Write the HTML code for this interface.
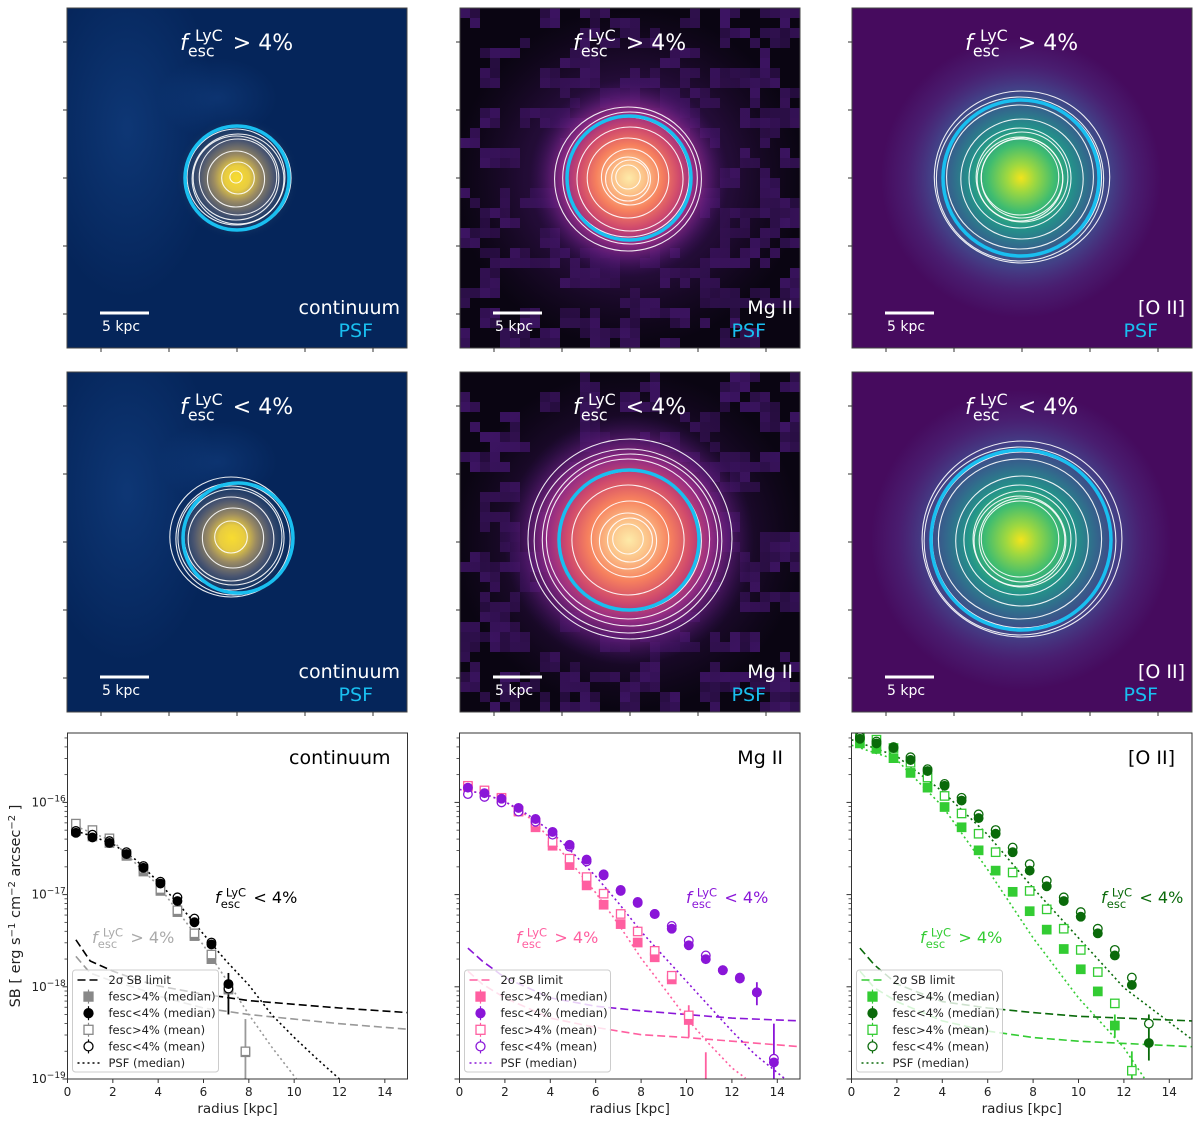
<!DOCTYPE html>
<html><head><meta charset="utf-8"><style>
html,body{margin:0;padding:0;background:#fff;}
svg{display:block;font-family:"DejaVu Sans","Liberation Sans",sans-serif;}
</style></head><body>
<svg id="fig" width="1200" height="1124" viewBox="0 0 1200 1124" xmlns="http://www.w3.org/2000/svg">
<defs>
<radialGradient id="gCont"><stop offset="0" stop-color="#f8dc30"/><stop offset="0.2" stop-color="#e8cc40"/><stop offset="0.38" stop-color="#9a8a62"/><stop offset="0.6" stop-color="#4a5570"/><stop offset="0.8" stop-color="#1d3d68" stop-opacity="0.7"/><stop offset="1" stop-color="#06265a" stop-opacity="0"/></radialGradient>
<radialGradient id="gMg"><stop offset="0" stop-color="#fdeaa8"/><stop offset="0.15" stop-color="#fcc48a"/><stop offset="0.33" stop-color="#f6805e"/><stop offset="0.5" stop-color="#d04a6c"/><stop offset="0.65" stop-color="#9a2e86" stop-opacity="0.95"/><stop offset="0.8" stop-color="#6a1f80" stop-opacity="0.6"/><stop offset="1" stop-color="#3a1060" stop-opacity="0"/></radialGradient>
<radialGradient id="gO"><stop offset="0" stop-color="#f2e41c"/><stop offset="0.1" stop-color="#9ed840"/><stop offset="0.24" stop-color="#3fbc70"/><stop offset="0.36" stop-color="#23938a"/><stop offset="0.5" stop-color="#33678c"/><stop offset="0.65" stop-color="#43448a" stop-opacity="0.9"/><stop offset="0.82" stop-color="#4c2e80" stop-opacity="0.5"/><stop offset="1" stop-color="#4c2e80" stop-opacity="0"/></radialGradient>
<radialGradient id="gHaze"><stop offset="0" stop-color="#1a4f9a" stop-opacity="0.7"/><stop offset="1" stop-color="#1a4f9a" stop-opacity="0"/></radialGradient>
<radialGradient id="gMgHalo"><stop offset="0" stop-color="#4a1870" stop-opacity="0.8"/><stop offset="0.6" stop-color="#3a1258" stop-opacity="0.5"/><stop offset="1" stop-color="#2a0c40" stop-opacity="0"/></radialGradient>
</defs>
<g id="images"></g>
<g id="plots"></g>
</svg>
<script>
// ---------- chart data (log10 SB) ----------
const radii = [0.37,1.1,1.85,2.6,3.35,4.1,4.85,5.6,6.35,7.1,7.85,8.6,9.35,10.1,10.85,11.6,12.35,13.1,13.85];
const xTicks = [0,2,4,6,8,10,12,14];
const yDecades = [-19,-18,-17,-16];
const yTickExps = ["\u221219","\u221218","\u221217","\u221216"];

const contHiMed  = [-16.31,-16.37,-16.44,-16.58,-16.75,-16.96,-17.19,-17.45,-17.70,-18.03,-18.71];
const contLoMed  = [-16.33,-16.38,-16.44,-16.56,-16.71,-16.88,-17.07,-17.30,-17.54,-17.97];
const contHiMean = [-16.23,-16.30,-16.39,-16.56,-16.72,-16.94,-17.17,-17.42,-17.65,-18.02,-18.70];
const contLoMean = [-16.31,-16.35,-16.42,-16.54,-16.69,-16.86,-17.03,-17.26,-17.52,-18.02];
const contPsfLoR = [0.37,1,2,3,4,5,6,7,8,9,10,11,12];
const contPsfLo  = [-16.31,-16.36,-16.45,-16.62,-16.86,-17.13,-17.43,-17.72,-17.98,-18.3,-18.55,-18.78,-19.0];
const contPsfHiR = [0.37,2,4,6,7,8,9,10.1];
const contPsfHi  = [-16.26,-16.42,-16.9,-17.55,-17.92,-18.3,-18.65,-19.0];
const limR       = [0.37,1,2,3,4,6,8,10,12,15];
const contLimLo  = [-17.49,-17.72,-17.83,-17.92,-17.99,-18.08,-18.15,-18.19,-18.23,-18.28];
const contLimHi  = [-17.67,-17.85,-17.94,-18.01,-18.10,-18.23,-18.30,-18.35,-18.40,-18.46];

const mgHiMed  = [-15.83,-15.88,-15.96,-16.10,-16.27,-16.47,-16.68,-16.90,-17.11,-17.32,-17.52,-17.68,-17.92,-18.36];
const mgHiMean = [-15.82,-15.87,-15.95,-16.09,-16.22,-16.43,-16.61,-16.81,-16.99,-17.21,-17.40,-17.61,-17.88,-18.31];
const mgLoMed  = [-15.84,-15.90,-15.96,-16.06,-16.18,-16.32,-16.46,-16.62,-16.78,-16.95,-17.08,-17.21,-17.37,-17.55,-17.70,-17.82,-17.91,-18.06,-18.82];
const mgLoMean = [-15.91,-15.94,-16.00,-16.10,-16.21,-16.35,-16.48,-16.64,-16.79,-16.96,-17.09,-17.21,-17.34,-17.50,-17.66,-17.82,-17.90,-18.06,-18.78];
const mgPsfHiR = [0,1,2,3,4,5,6,7,8,9,10,11,12,12.6];
const mgPsfHi  = [-15.86,-15.90,-15.99,-16.15,-16.39,-16.68,-16.98,-17.32,-17.69,-18.01,-18.34,-18.62,-18.88,-18.99];
const mgPsfLoR = [0,1,2,3,4,5,6,7,8,9,10,11,12,13,14.3];
const mgPsfLo  = [-15.86,-15.90,-15.99,-16.13,-16.31,-16.55,-16.80,-17.09,-17.40,-17.67,-17.94,-18.21,-18.48,-18.73,-18.99];
const mgLimLo  = [-17.58,-17.72,-17.90,-18.01,-18.12,-18.21,-18.26,-18.30,-18.34,-18.37];
const mgLimHi  = [-17.83,-17.97,-18.12,-18.23,-18.34,-18.44,-18.52,-18.55,-18.59,-18.65];

const oHiMed  = [-15.36,-15.42,-15.52,-15.68,-15.84,-16.05,-16.27,-16.52,-16.74,-16.97,-17.18,-17.38,-17.59,-17.81,-18.05,-18.42];
const oHiMean = [-15.27,-15.32,-15.41,-15.57,-15.73,-15.93,-16.12,-16.34,-16.54,-16.76,-16.96,-17.16,-17.37,-17.60,-17.84,-18.18,-18.91];
const oLoMed  = [-15.31,-15.36,-15.41,-15.54,-15.66,-15.82,-15.98,-16.17,-16.34,-16.54,-16.74,-16.91,-17.07,-17.24,-17.42,-17.66,-17.98,-18.61];
const oLoMean = [-15.29,-15.34,-15.40,-15.51,-15.64,-15.80,-15.95,-16.13,-16.30,-16.49,-16.67,-16.85,-17.03,-17.19,-17.37,-17.60,-17.90,-18.40];
const oPsfHiR = [0,2,4,6,8,10,12,12.9];
const oPsfHi  = [-15.38,-15.54,-16.04,-16.73,-17.47,-18.12,-18.66,-18.99];
const oPsfLoR = [0,2,4,6,8,10,12,15];
const oPsfLo  = [-15.32,-15.50,-15.88,-16.35,-16.93,-17.47,-18.01,-18.57];
const oLimR   = [0.37,1,2,4,6,8,10,15];
const oLimLo  = [-17.58,-17.76,-17.97,-18.16,-18.23,-18.28,-18.32,-18.37];
const oLimHi  = [-17.83,-18.01,-18.16,-18.37,-18.48,-18.55,-18.59,-18.65];

const NS='http://www.w3.org/2000/svg';
function mk(tag, attrs, parent){const e=document.createElementNS(NS,tag);for(const k in attrs)e.setAttribute(k,attrs[k]);if(parent)parent.appendChild(e);return e;}
function fescText(parent,x,y,sym,color,size){
  const g=mk('g',{fill:color},parent);
  
  
  const a=mk('text',{x:x,y:y,'font-size':size,'font-style':'italic'},g);a.textContent='f';
  const b=mk('text',{x:x+size*0.68,y:y-size*0.42,'font-size':size*0.72},g);b.textContent='LyC';
  const c=mk('text',{x:x+size*0.36,y:y+size*0.3,'font-size':size*0.72},g);c.textContent='esc';
  const d=mk('text',{x:x+size*2.4,y:y,'font-size':size},g);d.textContent=sym+' 4%';
}

// ---------- image panels ----------
const imgs=document.getElementById('images');
const panels=[
 {x:67,y:8,bg:'#05255a',grad:'gCont',gr:62,cx:237,cy:178,psf:52,cont:[6,16,28,38,42,45,48,52],lab:'continuum',sym:'>',name:'continuum-high'},
 {x:460,y:8,bg:'#0a0512',grad:'gMg',gr:100,cx:629,cy:178,psf:62,cont:[12,18,22,28,40,52,60,66,72],lab:'Mg II',sym:'>',name:'mgii-high'},
 {x:852,y:8,bg:'#460b5e',grad:'gO',gr:140,cx:1021,cy:178,psf:78,cont:[38,40,42,45,50,60,72,78,82,86],lab:'[O II]',sym:'>',name:'oii-high'},
 {x:67,y:372,bg:'#05255a',grad:'gCont',gr:64,cx:232,cy:538,psf:55,cont:[16,30,42,48,52,56,60],lab:'continuum',sym:'<',name:'continuum-low',pcx:238},
 {x:460,y:372,bg:'#0a0512',grad:'gMg',gr:125,cx:629,cy:540,psf:70,cont:[15,22,28,38,55,70,80,86,92,100],lab:'Mg II',sym:'<',name:'mgii-low'},
 {x:852,y:372,bg:'#460b5e',grad:'gO',gr:150,cx:1021,cy:540,psf:90,cont:[38,42,45,48,55,65,80,88,94,98],lab:'[O II]',sym:'<',name:'oii-low'}
];
panels.forEach((p,pi)=>{
  const g=mk('g',{},imgs);
  
  
  mk('rect',{x:p.x,y:p.y,width:340,height:340,fill:p.bg},g);
  const cp='clip'+p.name; const c=mk('clipPath',{id:cp},g); mk('rect',{x:p.x,y:p.y,width:340,height:340},c);
  const inner=mk('g',{'clip-path':'url(#'+cp+')'},g);
  if(p.grad==='gCont'){mk('ellipse',{cx:p.x+60,cy:p.y+120,rx:90,ry:170,fill:'url(#gHaze)',opacity:0.6},inner);mk('ellipse',{cx:p.x+150,cy:p.y+90,rx:60,ry:40,fill:'url(#gHaze)',opacity:0.5},inner);}
  if(p.grad==='gMg'){
    // background noise patches (decorative)
    for(let i=0;i<34;i++)for(let j=0;j<34;j++){
      const h=Math.abs(Math.sin((i*12.9898+j*78.233+pi*37.7)*1.0)*43758.5453)%1;
      const h2=Math.abs(Math.sin(((i>>1)*7.1+(j>>1)*3.3+pi)*1.0)*9137.13)%1;
      if(h2>0.45&&h>0.25){mk('rect',{x:p.x+i*10,y:p.y+j*10,width:10,height:10,fill:'#4a1878',opacity:(0.3+0.5*h).toFixed(2)},inner);}
    }
    mk('ellipse',{cx:p.cx,cy:p.cy,rx:175,ry:170,fill:'url(#gMgHalo)'},inner);
  }
  mk('circle',{cx:p.cx,cy:p.cy,r:p.gr,fill:'url(#'+p.grad+')'},inner);
  p.cont.forEach((r,i)=>{const e=mk('ellipse',{cx:p.cx+(i%2?1:-1),cy:p.cy+(i%3-1),rx:r*1.02,ry:r,fill:'none',stroke:'#fff','stroke-width':1.1,opacity:0.9},inner);
    });
  const psf=mk('circle',{cx:p.pcx||p.cx,cy:p.cy,r:p.psf,fill:'none',stroke:'#19bff0','stroke-width':3.5},inner);
  
  mk('rect',{x:p.x,y:p.y,width:340,height:340,fill:'none',stroke:'#444','stroke-width':1},g);
  [34,102,170,238,306].forEach(d=>{mk('line',{x1:p.x-4,x2:p.x,y1:p.y+d,y2:p.y+d,stroke:'#333'},g);mk('line',{x1:p.x+d,x2:p.x+d,y1:p.y+340,y2:p.y+344,stroke:'#333'},g);});
  fescText(g,p.x+113,p.y+42,p.sym,'#fff',22);
  const sb=mk('line',{x1:p.x+33,x2:p.x+82,y1:p.y+305,y2:p.y+305,stroke:'#fff','stroke-width':3},g);
  
  const st=mk('text',{x:p.x+35,y:p.y+323,fill:'#fff','font-size':14},g);st.textContent='5 kpc';
  
  const l=mk('text',{x:p.x+333,y:p.y+306,fill:'#fff','font-size':19,'text-anchor':'end'},g);l.textContent=p.lab;
  
  const ps=mk('text',{x:p.x+306,y:p.y+329,fill:'#19bff0','font-size':19,'text-anchor':'end'},g);ps.textContent='PSF';
  
});

// ---------- profile plots ----------
const plots=document.getElementById('plots');
const TOP=733,BOT=1079,DEC=92.2;
function makeAxes(x0,w){return {X:r=>x0+r*w/15,Y:l=>BOT-(l+19)*DEC};}
function poly(g,ax,rs,ls,color,dash,name,op){
  const pts=rs.map((r,i)=>ax.X(r).toFixed(1)+','+ax.Y(ls[i]).toFixed(1)).join(' ');
  const e=mk('polyline',{points:pts,fill:'none',stroke:color,'stroke-width':1.6,'stroke-dasharray':dash,opacity:op||1},g);
  
}
function markers(g,ax,vals,type,color,filled,name){
  vals.forEach((v,i)=>{
    const x=ax.X(radii[i]),y=ax.Y(v);let e;
    if(type==='s')e=mk('rect',{x:x-4.2,y:y-4.2,width:8.4,height:8.4,fill:filled?color:'#fff',stroke:color,'stroke-width':1.3},g);
    else e=mk('circle',{cx:x,cy:y,r:4.3,fill:filled?color:'#fff',stroke:color,'stroke-width':1.3},g);
    
  });
}
function errbar(g,ax,r,lo,hi,color){const e=mk('line',{x1:ax.X(r),x2:ax.X(r),y1:ax.Y(lo),y2:ax.Y(hi),stroke:color,'stroke-width':1.8},g);
  }

const cfgs=[
 {x0:67.5,w:340,name:'continuum',title:'continuum',cHi:'#888888',cLo:'#000000',hiMed:contHiMed,loMed:contLoMed,hiMean:contHiMean,loMean:contLoMean,
  psf:[[contPsfHiR,contPsfHi,'#999'],[contPsfLoR,contPsfLo,'#000']],lim:[[limR,contLimHi,'#999'],[limR,contLimLo,'#000']],
  errs:[[7.1,-18.3,-17.85,'#000'],[7.85,-19.2,-18.35,'#999']],annLo:[215,903],annHi:[92,943],labels:true},
 {x0:459.5,w:340.5,name:'mgii',title:'Mg II',cHi:'#ff5fa0',cLo:'#8a16d8',hiMed:mgHiMed,loMed:mgLoMed,hiMean:mgHiMean,loMean:mgLoMean,
  psf:[[mgPsfHiR,mgPsfHi,'#ff5fa0'],[mgPsfLoR,mgPsfLo,'#8a16d8']],lim:[[limR,mgLimHi,'#ff5fa0'],[limR,mgLimLo,'#8a16d8']],
  errs:[[10.85,-19.2,-18.71,'#ff5fa0'],[13.85,-19.2,-18.4,'#8a16d8'],[10.1,-18.55,-18.2,'#ff5fa0'],[13.1,-18.2,-17.95,'#8a16d8']],annLo:[686,903],annHi:[516,943]},
 {x0:851.5,w:340.5,name:'oii',title:'[O II]',cHi:'#33cc33',cLo:'#0a6a0a',hiMed:oHiMed,loMed:oLoMed,hiMean:oHiMean,loMean:oLoMean,
  psf:[[oPsfHiR,oPsfHi,'#33cc33'],[oPsfLoR,oPsfLo,'#0a6a0a']],lim:[[oLimR,oLimHi,'#33cc33'],[oLimR,oLimLo,'#0a6a0a']],
  errs:[[13.1,-18.8,-18.3,'#0a6a0a'],[12.35,-19.2,-18.7,'#33cc33'],[11.6,-18.55,-18.3,'#33cc33']],annLo:[1101,903],annHi:[920,943]}
];
cfgs.forEach(c=>{
  const ax=makeAxes(c.x0,c.w);
  const g=mk('g',{},plots);
  
  
  const cid='pc'+c.name;const cl=mk('clipPath',{id:cid},g);mk('rect',{x:c.x0,y:TOP,width:c.w,height:BOT-TOP},cl);
  const d=mk('g',{'clip-path':'url(#'+cid+')'},g);
  c.lim.forEach(s=>poly(d,ax,s[0],s[1],s[2],'8,4','sb-limit-line'));
  c.psf.forEach(s=>poly(d,ax,s[0],s[1],s[2],'2,3','psf-line'));
  c.errs.forEach(e=>errbar(d,ax,e[0],e[1],e[2],e[3]));
  markers(d,ax,c.hiMed,'s',c.cHi,true,'fesc-high-median-marker');
  markers(d,ax,c.hiMean,'s',c.cHi,false,'fesc-high-mean-marker');
  markers(d,ax,c.loMean,'c',c.cLo,false,'fesc-low-mean-marker');
  markers(d,ax,c.loMed,'c',c.cLo,true,'fesc-low-median-marker');
  mk('rect',{x:c.x0,y:TOP,width:c.w,height:BOT-TOP,fill:'none',stroke:'#333','stroke-width':1},g);
  for(let dec=-19;dec<=-15;dec++){
    for(let m=1;m<10;m++){const l=dec+Math.log10(m);const y=ax.Y(l);if(y<TOP)continue;
      mk('line',{x1:c.x0-(m===1?5:3),x2:c.x0,y1:y,y2:y,stroke:'#333','stroke-width':m===1?1:0.8},g);}
  }
  if(c.labels){yDecades.forEach((dv,i)=>{const t=mk('text',{x:c.x0-36,y:ax.Y(dv)+4,'font-size':12,fill:'#222'},g);
    
    const a=mk('tspan',{},t);a.textContent='10';const b=mk('tspan',{dy:-5,'font-size':9},t);b.textContent=yTickExps[i];});}
  xTicks.forEach(v=>{const x=ax.X(v);mk('line',{x1:x,x2:x,y1:BOT,y2:BOT+4,stroke:'#333'},g);
    const t=mk('text',{x:x,y:BOT+17,'font-size':12,'text-anchor':'middle',fill:'#222'},g);t.textContent=v;
    });
  const xl=mk('text',{x:c.x0+c.w/2,y:BOT+34,'font-size':13.5,'text-anchor':'middle',fill:'#222'},g);xl.textContent='radius [kpc]';
  
  const tt=mk('text',{x:c.x0+c.w-17,y:TOP+31,'font-size':19,'text-anchor':'end',fill:'#000'},g);tt.textContent=c.title;
  
  fescText(g,c.annLo[0],c.annLo[1],'<',c.cLo,16);
  fescText(g,c.annHi[0],c.annHi[1],'>',c.cHi==='#888888'?'#aaa':c.cHi,16);
  const lg=mk('g',{},g);
  
  
  const lx=c.x0+5,ly=970;
  mk('rect',{x:lx,y:ly,width:146,height:102,rx:3,fill:'#fff','fill-opacity':0.8,stroke:'#ccc'},lg);
  const items=[['line','2\u03C3 SB limit',c.cHi==='#888888'?'#000':c.cHi,'8,4'],['sf','fesc>4% (median)',c.cHi],['cf','fesc<4% (median)',c.cLo],['so','fesc>4% (mean)',c.cHi],['co','fesc<4% (mean)',c.cLo],['line','PSF (median)',c.cLo,'2,3']];
  items.forEach((it,i)=>{const y=ly+10+i*16.6;const e=mk('g',{},lg);
    
    if(it[0]==='line')mk('line',{x1:lx+5,x2:lx+28,y1:y,y2:y,stroke:it[2],'stroke-width':1.6,'stroke-dasharray':it[3]},e);
    else if(it[0][0]==='s'){mk('line',{x1:lx+16,x2:lx+16,y1:y-7,y2:y+7,stroke:it[2],'stroke-width':1.2},e);mk('rect',{x:lx+11.5,y:y-4.5,width:9,height:9,fill:it[0][1]==='f'?it[2]:'#fff',stroke:it[2],'stroke-width':1.3},e);}
    else{mk('line',{x1:lx+16,x2:lx+16,y1:y-7,y2:y+7,stroke:it[2],'stroke-width':1.2},e);mk('circle',{cx:lx+16,cy:y,r:4.5,fill:it[0][1]==='f'?it[2]:'#fff',stroke:it[2],'stroke-width':1.3},e);}
    const t=mk('text',{x:lx+36,y:y+4,'font-size':11.5,fill:'#222'},e);t.textContent=it[1];});
});
const yl=mk('text',{x:0,y:0,'font-size':14.5,'text-anchor':'middle',fill:'#222',transform:'translate(20,906) rotate(-90)'},plots);


[['SB [ erg s',0],['\u22121',-5],[' cm',5],['\u22122',-5],[' arcsec',5],['\u22122',-5],[' ]',5]].forEach(p=>{const s=mk('tspan',{dy:p[1]},yl);if(p[1]<0)s.setAttribute('font-size',10);s.textContent=p[0];});
</script>
</body></html>
